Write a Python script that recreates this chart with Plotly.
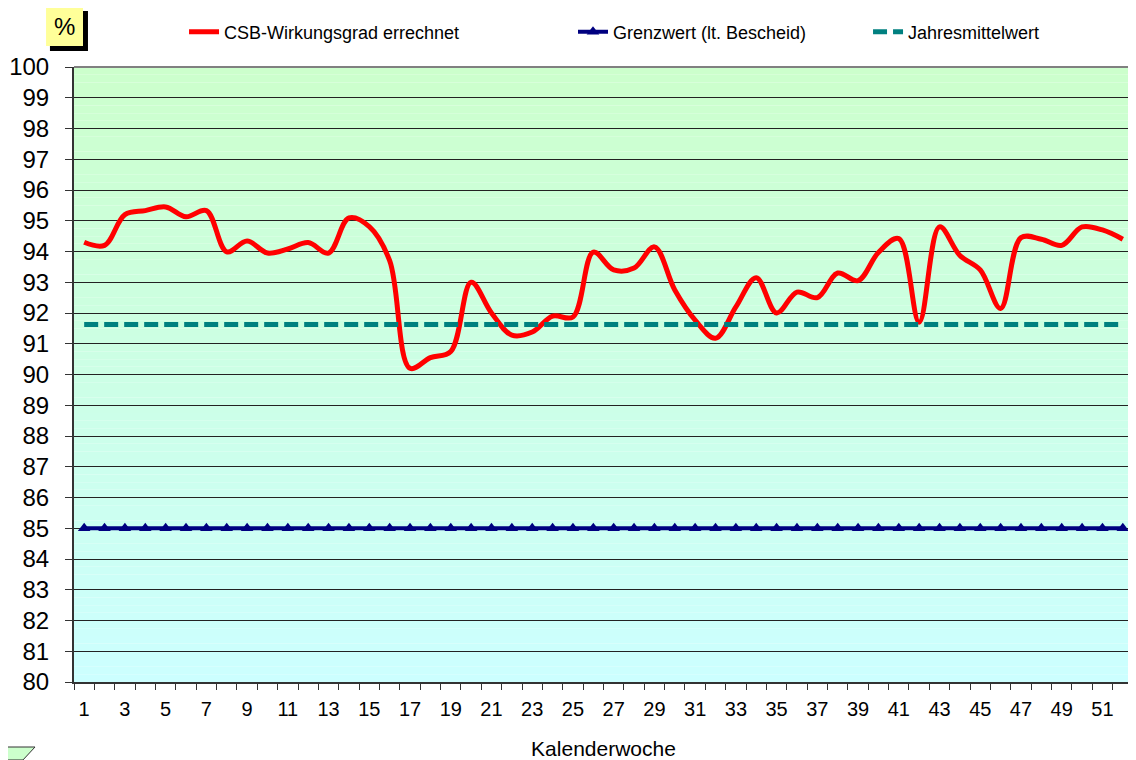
import plotly.graph_objects as go

weeks = list(range(1, 53))
csb = [94.3, 94.2, 95.2, 95.33, 95.45, 95.13, 95.33, 93.99, 94.34, 93.95,
       94.08, 94.29, 93.95, 95.09, 94.81, 93.7, 90.2, 90.55, 90.75, 93.0,
       92.0, 91.28, 91.38, 91.9, 91.87, 93.98, 93.4, 93.46, 94.15, 92.75,
       91.77, 91.18, 92.2, 93.15, 92.0, 92.68, 92.5, 93.3, 93.05, 93.97,
       94.42, 91.7, 94.8, 93.87, 93.4, 92.15, 94.45, 94.4, 94.2, 94.8,
       94.7, 94.4]
grenzwert = [85] * 52
jahresmittel = [91.63] * 52
x_ticks = list(range(1, 53, 2))
y_ticks = list(range(80, 101))

FONT = "Liberation Sans, Arial, sans-serif"

fig = go.Figure()
fig.add_trace(go.Scatter(
    x=weeks, y=csb, mode="lines", name="CSB-Wirkungsgrad errechnet",
    line=dict(color="#FF0000", width=5, shape="spline", smoothing=1.0),
    legend="legend"))
fig.add_trace(go.Scatter(
    x=weeks, y=grenzwert, mode="lines+markers", name="Grenzwert (lt. Bescheid)",
    line=dict(color="#000080", width=4),
    marker=dict(symbol="triangle-up", size=11, color="#000080"),
    legend="legend2"))
fig.add_trace(go.Scatter(
    x=weeks, y=jahresmittel, mode="lines", name="Jahresmittelwert",
    line=dict(color="#008080", width=5, dash="14px,6px"),
    legend="legend3"))

# gradient background strips (green at top -> cyan at bottom)
shapes = []
n = 80
for i in range(n):
    t = i / (n - 1)  # 0 bottom -> 1 top
    b = round(255 - t * (255 - 204))
    shapes.append(dict(type="rect", xref="paper", yref="paper",
                       x0=0, x1=1, y0=i / n, y1=(i + 1) / n,
                       fillcolor=f"rgb(204,255,{b})", line=dict(width=0),
                       layer="below"))
# plot border top / right
shapes.append(dict(type="line", xref="paper", yref="paper", x0=0, x1=1, y0=1, y1=1,
                   line=dict(color="#808080", width=2), layer="above"))
shapes.append(dict(type="line", xref="paper", yref="paper", x0=1, x1=1, y0=0, y1=1,
                   line=dict(color="#808080", width=2), layer="above"))
# % box shadow and box
shapes.append(dict(type="rect", xref="paper", yref="paper",
                   x0=-0.0227, x1=0.0132, y0=1.026, y1=1.0911,
                   fillcolor="#000000", line=dict(width=0)))
shapes.append(dict(type="rect", xref="paper", yref="paper",
                   x0=-0.0264, x1=0.0085, y0=1.0341, y1=1.0976,
                   fillcolor="#FFFF99", line=dict(width=0)))
# decorative parallelogram at bottom-left
shapes.append(dict(type="path", xref="paper", yref="paper",
                   path="M -0.075,-0.1057 L -0.0368,-0.1057 L -0.0482,-0.1268 L -0.075,-0.1268 Z",
                   fillcolor="#CCFFCC", line=dict(color="#333333", width=1)))

leg_common = dict(y=1.057, xanchor="left", yanchor="middle", orientation="h",
                  font=dict(size=18), bgcolor="rgba(0,0,0,0)")

fig.update_layout(
    width=1128, height=752,
    margin=dict(l=66, r=3, t=59, b=78, autoexpand=False),
    paper_bgcolor="#FFFFFF", plot_bgcolor="rgba(0,0,0,0)",
    font=dict(family=FONT, color="#000000"),
    shapes=shapes,
    showlegend=True,
    legend=dict(x=0.1039, **leg_common),
    legend2=dict(x=0.4712, **leg_common),
    legend3=dict(x=0.7498, **leg_common),
    annotations=[dict(x=(64.5 - 74) / 1059, y=(682 - 26) / 615, xref="paper", yref="paper",
                      text="%", showarrow=False, font=dict(size=24, family=FONT),
                      xanchor="center", yanchor="middle")],
    xaxis=dict(
        range=[0.5, 52.5], tickmode="array", tickvals=x_ticks,
        ticktext=[str(v) for v in x_ticks], ticks="", showgrid=False,
        zeroline=False, showline=True, linecolor="#333333", linewidth=2,
        tickfont=dict(size=20), ticklabelstandoff=8,
        minor=dict(tick0=0.5, dtick=1, ticks="outside", ticklen=6,
                   tickcolor="#333333", tickwidth=1, showgrid=False),
        title=dict(text="Kalenderwoche", font=dict(size=21), standoff=22),
    ),
    yaxis=dict(
        range=[80, 100], tickmode="array", tickvals=y_ticks, ticks="outside",
        ticklen=7, tickcolor="#333333", showgrid=True, gridcolor="#222222",
        gridwidth=1, zeroline=False, showline=True, linecolor="#333333",
        linewidth=2, tickfont=dict(size=24), ticklabelstandoff=11,
    ),
)

fig.write_html("out.html")
